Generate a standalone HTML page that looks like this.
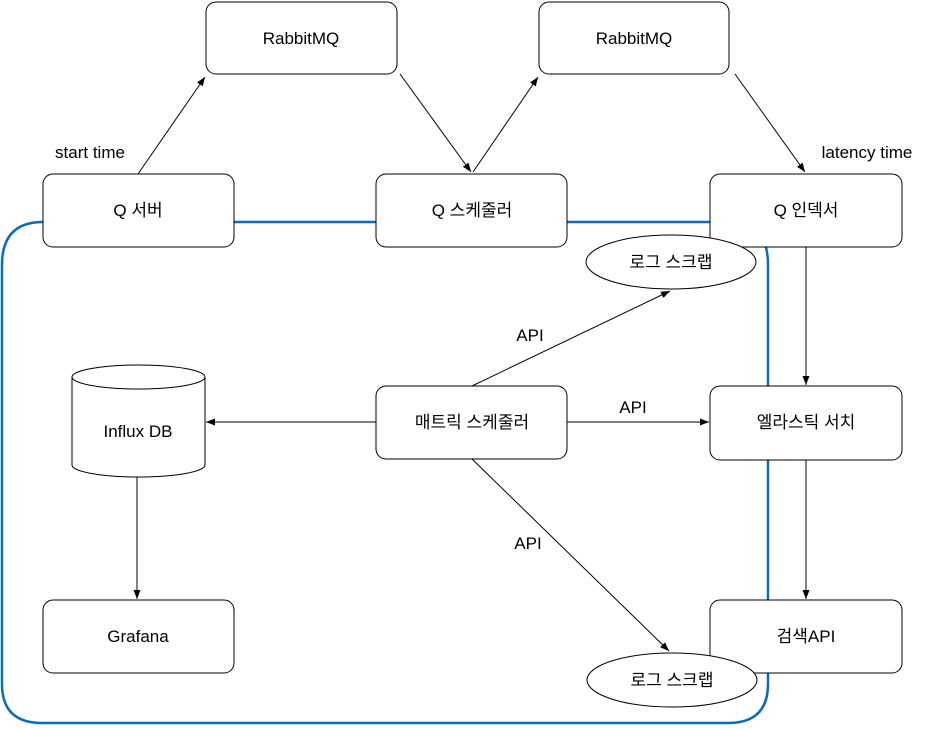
<!DOCTYPE html>
<html><head><meta charset="utf-8"><style>
body{margin:0;background:#fff}
svg text{font-family:"Liberation Sans","Noto Sans CJK KR",sans-serif;font-size:17px;fill:#000}
</style></head><body>
<svg width="932" height="725" viewBox="0 0 932 725" xmlns="http://www.w3.org/2000/svg">
<defs><marker id="a" markerWidth="10" markerHeight="10" refX="9" refY="5" orient="auto" markerUnits="userSpaceOnUse"><path d="M0,1.5 L9,5 L0,8.5 Z" fill="#000"/></marker></defs>
<path d="M43 222 Q2 222 2 265 L2 684 Q2 723 42 723 L728 723 Q768 723 768 684 L768 265 Q768 222 730 222 Z" fill="none" stroke="#0c6cbc" stroke-width="2.5"/>
<g stroke="#000" stroke-width="1" fill="none" marker-end="url(#a)">
<line x1="138" y1="174" x2="205" y2="77"/>
<line x1="400" y1="74" x2="471" y2="172"/>
<line x1="473" y1="172" x2="538" y2="77"/>
<line x1="735" y1="74" x2="805" y2="172"/>
<line x1="806" y1="247" x2="806" y2="385"/>
<line x1="806" y1="460" x2="806" y2="599"/>
<line x1="472" y1="386" x2="670" y2="291"/>
<line x1="567" y1="422" x2="709" y2="422"/>
<line x1="376" y1="422" x2="206" y2="422"/>
<line x1="472" y1="459" x2="669" y2="651"/>
<line x1="137" y1="477" x2="137" y2="599"/>
</g>
<g fill="#fff" stroke="#000" stroke-width="1">
<rect x="206" y="2" width="191" height="72" rx="10"/>
<rect x="539" y="2" width="190" height="72" rx="10"/>
<rect x="43" y="174" width="191" height="73" rx="10"/>
<rect x="376" y="174" width="191" height="73" rx="10"/>
<rect x="710" y="174" width="192" height="73" rx="10"/>
<rect x="376" y="386" width="191" height="73" rx="10"/>
<rect x="710" y="386" width="192" height="74" rx="10"/>
<rect x="710" y="600" width="192" height="73" rx="10"/>
<rect x="43" y="600" width="191" height="73" rx="10"/>
<path d="M72 377 L72 465 A66.5 12 0 0 0 205 465 L205 377"/>
<ellipse cx="138.5" cy="377" rx="66.5" ry="12"/>
<ellipse cx="671" cy="262" rx="85" ry="27"/>
<ellipse cx="672" cy="680" rx="85" ry="27"/>
</g>
<g text-anchor="middle">
<text x="301" y="44">RabbitMQ</text>
<text x="634" y="44">RabbitMQ</text>
<text x="138" y="216">Q 서버</text>
<text x="472" y="216">Q 스케줄러</text>
<text x="806" y="216">Q 인덱서</text>
<text x="472" y="428">매트릭 스케줄러</text>
<text x="806" y="428">엘라스틱 서치</text>
<text x="806" y="642">검색API</text>
<text x="138" y="642">Grafana</text>
<text x="138" y="437">Influx DB</text>
<text x="671" y="268">로그 스크랩</text>
<text x="672" y="686">로그 스크랩</text>
<text x="90" y="158">start time</text>
<text x="867" y="158">latency time</text>
<text x="530" y="341">API</text>
<text x="633" y="413">API</text>
<text x="528" y="549">API</text>
</g>
</svg>
</body></html>
